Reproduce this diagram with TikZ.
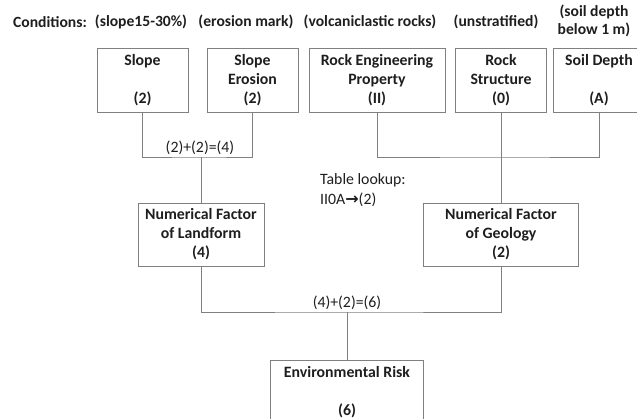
\documentclass[tikz,border=0pt]{standalone}
\usepackage{fontspec}
\setmainfont{Carlito}
\newfontfamily\arrowfont{DejaVu Sans}
\definecolor{linegray}{RGB}{128,128,128}
\definecolor{textdark}{RGB}{30,30,30}
\begin{document}
\begin{tikzpicture}[x=1pt, y=-1pt,
		box/.style = {draw=linegray, line width=0.8pt, inner sep=0pt, minimum height=64pt, align=center, font=\fontsize{15.8}{19}\selectfont\bfseries, text=textdark},
		cond/.style = {font=\fontsize{15.6}{17.5}\selectfont\bfseries, text=textdark, align=center, inner sep=0pt},
		note/.style = {font=\fontsize{15.8}{19}\selectfont, text=textdark, inner sep=0pt},
		link/.style = {draw=linegray, line width=0.8pt}]
				\useasboundingbox (0,0) rectangle (637,419);
				\clip (0,0) rectangle (637,419);

				\node[cond, anchor=west] (cond) at (13,22) {Conditions:};
				\node[cond] (condslope) at (141,22) {(slope15-30\%)};
				\node[cond] (conderosion) at (246,22) {(erosion mark)};
				\node[cond] (condrock) at (370,22) {(volcaniclastic rocks)};
				\node[cond] (condstruct) at (496,22) {(unstratified)};
				\node[cond] (condsoil) at (594,21) {(soil depth\\below 1 m)};

				\node[box, minimum width=91pt] (slope) at (142.5,80) {Slope\\\mbox{}\\(2)};
				\node[box, minimum width=91pt] (erosion) at (252.5,80) {Slope\\Erosion\\(2)};
				\node[box, minimum width=136pt] (rockeng) at (377,80) {Rock Engineering\\Property\\(II)};
				\node[box, minimum width=91pt] (rockstr) at (501,80) {Rock\\Structure\\(0)};
				\node[box, minimum width=92pt] (soil) at (599,80) {Soil Depth\\\mbox{}\\(A)};

				\node[box, minimum width=126pt, minimum height=63pt] (landform) at (201,234.5) {Numerical Factor\\of Landform\\(4)};
				\node[box, minimum width=155pt, minimum height=63pt] (geology) at (501,234.5) {Numerical Factor\\of Geology\\(2)};
				\node[box, minimum width=153pt] (risk) at (347,392) {Environmental Risk\\\mbox{}\\(6)};

				\coordinate (landjoin) at (201,157);
				\coordinate (geojoin) at (501,157);
				\coordinate (riskjoin) at (347,312);

				\node[note] (landsum) at (200,148) {(2)+(2)=(4)};
				\node[note, anchor=west] (lookup) at (320,180) {Table lookup:};
				\node[note, anchor=west] (lookupval) at (320,200) {II0A{\arrowfont\bfseries\fontsize{16}{19}\selectfont →}(2)};
				\node[note] (risksum) at (347,303) {(4)+(2)=(6)};

				\draw[link] (slope) |- (landjoin) -| (erosion)
				(landjoin) to (landform)
				(rockeng) |- (geojoin) -| (soil)
				(rockstr) to (geology)
				(landform) |- (riskjoin) -| (geology)
				(riskjoin) to (risk);
			\end{tikzpicture}
\end{document}
